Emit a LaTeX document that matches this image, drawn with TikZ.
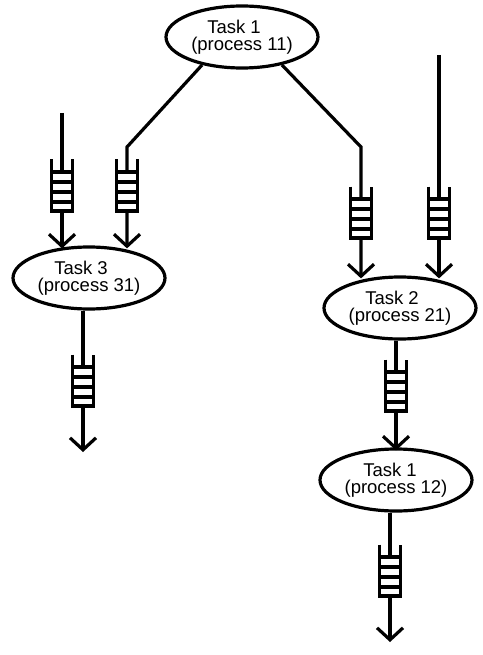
\documentclass[tikz,border=0pt]{standalone}
\usepackage{fontspec}
\setmainfont{Liberation Sans}
\usetikzlibrary{shapes.geometric,arrows.meta}
\begin{document}
\begin{tikzpicture}[x=1pt,y=-1pt,line width=3.2pt,
  task/.style={ellipse,draw,minimum width=152pt,minimum height=62pt,inner sep=0pt,
    align=center,font=\fontsize{18.5}{17.5}\selectfont},
  arr/.style={-{Straight Barb[length=12pt,width=26pt]}},
  arrin/.style={arr,shorten >=-3pt},
  queue/.pic={
    \fill[white] (-10.5,14) rectangle (10.5,53);
    \draw (-10.5,1.5) -- (-10.5,53) -- (10.5,53) -- (10.5,1.5);
    \foreach \yy in {14,24,34,44} \draw (-10.5,\yy) -- (10.5,\yy);
  }]
\useasboundingbox (0,0) rectangle (482,655);

\node[task] (t1) at (242,37) {Task 1\hspace*{16pt}\\(process 11)};
\node[task] (t3) at (89,278) {Task 3\hspace*{16pt}\\(process 31)};
\node[task] (t2) at (400,308) {Task 2\hspace*{16pt}\\(process 21)};
\node[task] (t12) at (396,480) {Task 1\hspace*{12pt}\\(process 12)};

\coordinate (s3) at (62,113);
\coordinate (b1) at (127,147);
\coordinate (b2) at (361,147);
\coordinate (s2) at (439,55);
\coordinate (e3) at (83,452);
\coordinate (e12) at (390,642);

\draw[arrin] (s3) -- (s3 |- t3.north);
\draw[arrin] (t1.215) -- (b1) -- (b1 |- t3.north);
\draw[arrin] (t1.-35) -- (b2) -- (b2 |- t2.north);
\draw[arrin] (s2) -- (s2 |- t2.north);
\draw[arr] ([xshift=-6pt]t3.south) -- (e3);
\draw[arrin] ([xshift=-4pt]t2.south) -- (t12.north);
\draw[arr] ([xshift=-6pt]t12.south) -- (e12);

\pic at (62,158) {queue};
\pic at (127,158) {queue};
\pic at (361,185) {queue};
\pic at (439,185) {queue};
\pic at (83,353) {queue};
\pic at (396,358) {queue};
\pic at (390,543) {queue};
\end{tikzpicture}
\end{document}
